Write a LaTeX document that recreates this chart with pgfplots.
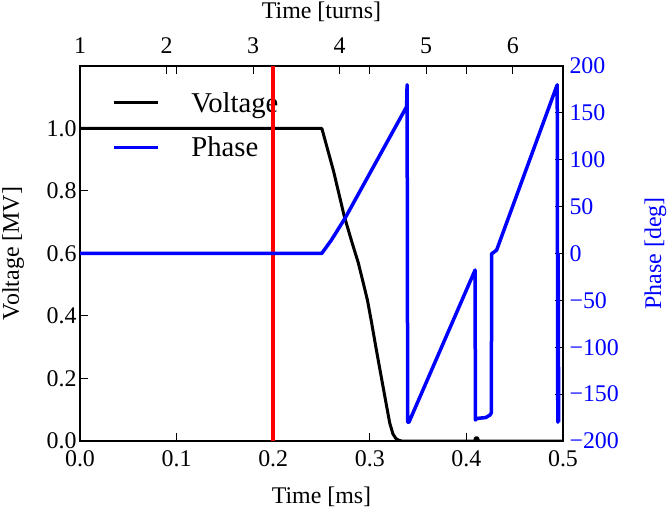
\documentclass[border=0pt]{standalone}
\usepackage{pgfplots}
\pgfplotsset{compat=1.18}
\usepackage{fontspec}
\setmainfont{Liberation Serif}
\definecolor{mblue}{RGB}{0,0,255}
\definecolor{mred}{RGB}{255,0,0}
\newcommand{\tl}[1]{\textrm{\fontsize{24}{26}\selectfont #1}}
\begin{document}
\begin{tikzpicture}
\pgfplotsset{
  every axis/.append style={
    scale only axis, width=483bp, height=375bp,
    xmin=0, xmax=0.5,
    tick align=inside,
    major tick length=8bp,
    axis line style={line width=2.5bp},
    every tick/.style={black, line width=1bp},
    tick label style={font=\fontsize{24}{26}\selectfont},
    label style={font=\fontsize{24}{26}\selectfont},
    /pgf/number format/assume math mode=true,
  }
}
\path[use as bounding box] (-80bp,-71bp) rectangle (590bp,441bp);
% main axis: voltage
\begin{axis}[
  at={(0,0)}, anchor=south west,
  ymin=0, ymax=1.2,
  xtick={0,0.1,0.2,0.3,0.4,0.5},
  xticklabels={\tl{0.0},\tl{0.1},\tl{0.2},\tl{0.3},\tl{0.4},\tl{0.5}},
  xtick pos=both, xticklabel pos=lower,
  xticklabel style={yshift=-6bp},
  ytick={0,0.2,0.4,0.6,0.8,1.0},
  yticklabels={\tl{0.0},\tl{0.2},\tl{0.4},\tl{0.6},\tl{0.8},\tl{1.0}},
  ytick pos=left, yticklabel pos=left,
  xlabel={Time [ms]},
  xlabel style={at={(axis description cs:0.5,0)}, anchor=base, yshift=-62bp},
  ylabel={Voltage [MV]},
  ylabel style={at={(axis description cs:-0.1263,0.5)}, anchor=base},
  legend style={draw=none, fill=none, at={(axis description cs:0.0665,0.936)},
    anchor=north west, inner sep=0pt, row sep=19bp,
    font=\fontsize{28.8}{30}\selectfont,
    nodes={inner sep=2bp},
    /tikz/every odd column/.append style={column sep=30bp}},
  legend cell align=left,
  legend image code/.code={\draw[#1] (0bp,0bp) -- (44bp,0bp);},
]
\addplot[black, line width=3bp, line join=round] coordinates {
(0,1) (0.2504,1) (0.2626,0.862) (0.2735,0.72) (0.2819,0.632) (0.2881,0.570)
(0.2933,0.505) (0.2976,0.45) (0.3015,0.385) (0.3063,0.30) (0.3110,0.22)
(0.3163,0.13) (0.3206,0.058) (0.3240,0.022) (0.3270,0.008) (0.3300,0.002) (0.3330,0)
(0.4085,0) (0.4095,0.01) (0.4115,0.01) (0.4125,0) (0.5,0)
};
\addlegendentry{Voltage}
\addlegendimage{mblue, line width=3bp}
\addlegendentry{Phase}
\end{axis}
% top axis: turns
\begin{axis}[
  at={(0,0)}, anchor=south west,
  xmin=1, xmax=6.5804, ymin=0, ymax=1,
  axis x line*=top, axis y line=none,
  xtick={1,2,3,4,5,6}, xticklabels={\tl{1},\tl{2},\tl{3},\tl{4},\tl{5},\tl{6}},
  xtick pos=upper, xticklabel pos=upper,
  xticklabel style={yshift=9bp},
  xlabel={Time [turns]},
  xlabel style={at={(axis description cs:0.5,1)}, anchor=base, yshift=47bp},
]
\end{axis}
% phase axis
\begin{axis}[
  at={(0,0)}, anchor=south west,
  ymin=-200, ymax=200,
  axis y line*=right, axis x line=none,
  ytick={-200,-150,-100,-50,0,50,100,150,200},
  yticklabels={\tl{−200},\tl{−150},\tl{−100},\tl{−50},\tl{0},\tl{50},\tl{100},\tl{150},\tl{200}},
  ytick pos=right, yticklabel pos=right,
  yticklabel style={text=mblue, xshift=3bp},
  ylabel={Phase [deg]},
  ylabel style={at={(axis description cs:1.2029,0.5)}, anchor=base, text=mblue},
]
\addplot[mred, line width=3.5bp] coordinates {(0.2,-200) (0.2,200)};
\addplot[mblue, line width=3.5bp, line join=round] coordinates {
(0,0) (0.2502,0) (0.2600,14) (0.2743,37.5) (0.3060,96.7) (0.3381,156.6)
(0.3386,180) (0.3392,-180) (0.3405,-180) (0.4090,-17.6) (0.4093,-177.6)
(0.4110,-176) (0.4150,-175.5) (0.4200,-175) (0.4244,-172.3) (0.4258,-170)
(0.4262,0) (0.4280,1) (0.4313,3.7) (0.4940,180) (0.4946,-180) (0.4950,0) (0.4955,-180)
};
\end{axis}
\end{tikzpicture}
\end{document}
